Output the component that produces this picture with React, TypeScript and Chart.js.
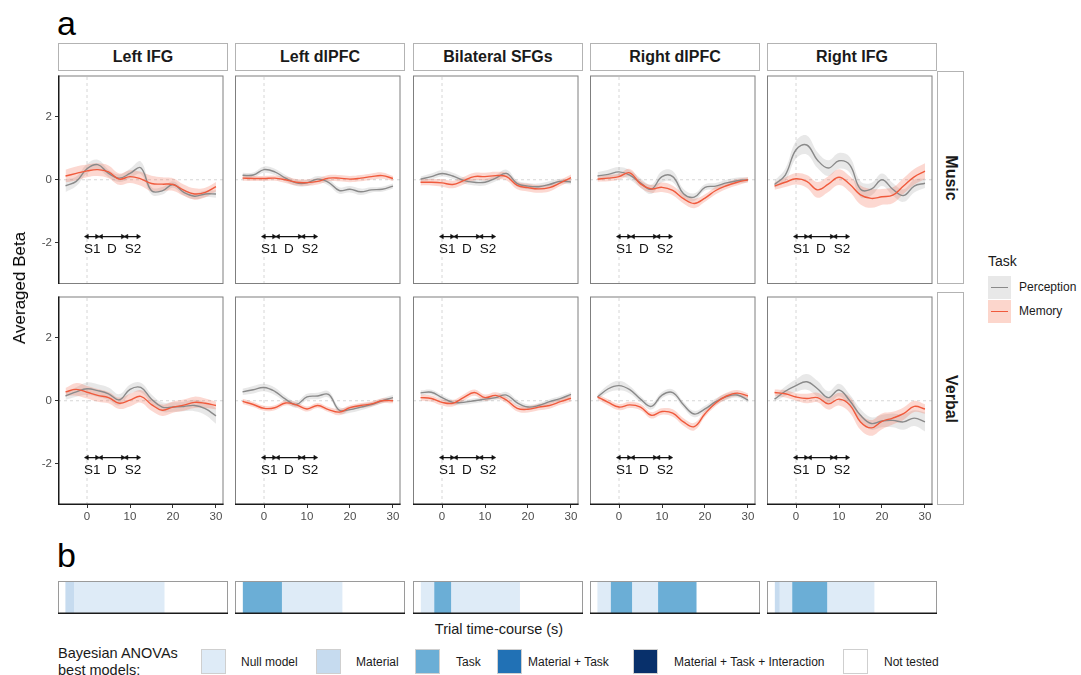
import React, { useEffect, useRef } from 'react';
import { Chart, registerables } from 'chart.js';
Chart.register(...registerables);

const FONT = '"Liberation Sans", Arial, Helvetica, sans-serif';

// ---------- categories ----------
const REGIONS = ['Left IFG', 'Left dlPFC', 'Bilateral SFGs', 'Right dlPFC', 'Right IFG'];
const MATERIALS = ['Music', 'Verbal'];
const TASKS = ['Perception', 'Memory'];
const TIME = [-5, -2.5, 0, 2.5, 5, 7.5, 10, 12.5, 15, 17.5, 20, 22.5, 25, 27.5, 30];
const Y_TICKS = [-2, 0, 2];
const X_TICKS = [0, 10, 20, 30];
const REF_X = 0;
const REF_Y = 0;

// ---------- trial annotation ----------
const ANNOT_X = [0, 2.3, 3.3, 8.3, 9.2, 11.9];
const ANNOT_ROT = [-90, 90, -90, 90, -90, 90];
const ANNOT_Y = -1.8;
const ANNOT_LABELS = ['S1', 'D', 'S2'];
const ANNOT_LABEL_X = [1.2, 5.8, 10.7];
const ANNOT_LABEL_Y = -2.2;

// ---------- Music: perception / memory means and SE ----------
const P_MUSIC_LIFG = [-0.19, -0.05, 0.35, 0.48, 0.2, 0.05, 0.2, 0.38, -0.35, -0.35, -0.15, -0.4, -0.52, -0.45, -0.45];
const P_MUSIC_LIFG_SE = [0.2, 0.15, 0.15, 0.15, 0.12, 0.12, 0.15, 0.2, 0.12, 0.12, 0.1, 0.1, 0.1, 0.1, 0.12];
const M_MUSIC_LIFG = [0.12, 0.2, 0.28, 0.32, 0.25, 0.02, 0.1, 0.03, -0.12, -0.14, -0.15, -0.33, -0.45, -0.4, -0.22];
const M_MUSIC_LIFG_SE = [0.2, 0.22, 0.2, 0.2, 0.2, 0.18, 0.2, 0.22, 0.25, 0.22, 0.2, 0.18, 0.18, 0.15, 0.15];

const P_MUSIC_LDLPFC = [0.14, 0.15, 0.32, 0.25, 0.05, -0.1, -0.1, 0.02, -0.08, -0.34, -0.3, -0.38, -0.32, -0.3, -0.2];
const P_MUSIC_LDLPFC_SE = [0.08, 0.08, 0.1, 0.1, 0.1, 0.1, 0.1, 0.1, 0.1, 0.1, 0.1, 0.1, 0.08, 0.08, 0.08];
const M_MUSIC_LDLPFC = [0.05, 0.04, 0.04, 0.05, 0.0, -0.08, -0.09, -0.05, 0.05, 0.05, 0.02, 0.05, 0.1, 0.13, 0.04];
const M_MUSIC_LDLPFC_SE = [0.08, 0.08, 0.08, 0.08, 0.1, 0.1, 0.1, 0.1, 0.1, 0.1, 0.1, 0.1, 0.1, 0.1, 0.08];

const P_MUSIC_SFG = [0.02, 0.1, 0.2, 0.12, -0.02, -0.08, -0.08, 0.05, 0.2, -0.12, -0.2, -0.22, -0.15, -0.05, -0.07];
const P_MUSIC_SFG_SE = [0.08, 0.1, 0.1, 0.1, 0.1, 0.1, 0.1, 0.1, 0.12, 0.1, 0.1, 0.1, 0.1, 0.08, 0.08];
const M_MUSIC_SFG = [-0.08, -0.08, -0.1, -0.15, -0.03, 0.1, 0.1, 0.13, 0.1, -0.18, -0.25, -0.29, -0.25, -0.1, 0.07];
const M_MUSIC_SFG_SE = [0.1, 0.1, 0.12, 0.12, 0.12, 0.12, 0.12, 0.12, 0.12, 0.12, 0.12, 0.12, 0.12, 0.1, 0.1];

const P_MUSIC_RDLPFC = [0.12, 0.17, 0.25, 0.15, -0.1, -0.3, 0.1, 0.1, -0.44, -0.55, -0.24, -0.2, -0.1, -0.03, 0.0];
const P_MUSIC_RDLPFC_SE = [0.12, 0.15, 0.15, 0.15, 0.15, 0.15, 0.18, 0.18, 0.15, 0.12, 0.1, 0.1, 0.1, 0.1, 0.08];
const M_MUSIC_RDLPFC = [0.02, 0.05, 0.1, 0.22, -0.13, -0.29, -0.24, -0.34, -0.6, -0.75, -0.58, -0.34, -0.19, -0.08, 0.0];
const M_MUSIC_RDLPFC_SE = [0.08, 0.1, 0.1, 0.12, 0.12, 0.12, 0.15, 0.15, 0.15, 0.15, 0.12, 0.12, 0.1, 0.1, 0.08];

const P_MUSIC_RIFG = [-0.15, 0.15, 0.95, 1.1, 0.62, 0.37, 0.6, 0.47, -0.3, -0.3, 0.0, -0.3, -0.5, -0.2, -0.11];
const P_MUSIC_RIFG_SE = [0.12, 0.2, 0.28, 0.3, 0.25, 0.25, 0.25, 0.25, 0.25, 0.2, 0.2, 0.2, 0.2, 0.2, 0.15];
const M_MUSIC_RIFG = [-0.2, -0.08, 0.03, -0.05, -0.32, -0.14, 0.08, -0.14, -0.48, -0.59, -0.54, -0.49, -0.2, 0.09, 0.27];
const M_MUSIC_RIFG_SE = [0.12, 0.15, 0.18, 0.2, 0.25, 0.25, 0.25, 0.25, 0.3, 0.3, 0.25, 0.25, 0.25, 0.25, 0.25];

// ---------- Verbal: perception / memory means and SE ----------
const P_VERBAL_LIFG = [0.15, 0.28, 0.38, 0.32, 0.22, 0.03, 0.36, 0.42, 0.05, -0.2, -0.2, -0.18, -0.15, -0.25, -0.48];
const P_VERBAL_LIFG_SE = [0.12, 0.15, 0.2, 0.2, 0.2, 0.18, 0.15, 0.15, 0.15, 0.15, 0.15, 0.15, 0.18, 0.2, 0.25];
const M_VERBAL_LIFG = [0.28, 0.36, 0.27, 0.17, 0.1, -0.08, 0.02, 0.14, -0.12, -0.3, -0.2, -0.14, -0.05, -0.08, -0.15];
const M_VERBAL_LIFG_SE = [0.12, 0.2, 0.2, 0.2, 0.18, 0.18, 0.2, 0.2, 0.2, 0.18, 0.18, 0.18, 0.18, 0.15, 0.12];

const P_VERBAL_LDLPFC = [0.28, 0.35, 0.42, 0.3, 0.05, -0.12, 0.12, 0.15, 0.2, -0.3, -0.28, -0.2, -0.12, 0.0, 0.1];
const P_VERBAL_LDLPFC_SE = [0.1, 0.12, 0.12, 0.12, 0.1, 0.1, 0.1, 0.1, 0.1, 0.1, 0.1, 0.1, 0.08, 0.08, 0.08];
const M_VERBAL_LDLPFC = [-0.02, -0.12, -0.24, -0.22, -0.07, -0.13, -0.26, -0.15, -0.28, -0.36, -0.22, -0.15, -0.1, 0.0, 0.0];
const M_VERBAL_LDLPFC_SE = [0.08, 0.08, 0.08, 0.08, 0.08, 0.08, 0.08, 0.08, 0.08, 0.1, 0.08, 0.08, 0.08, 0.08, 0.08];

const P_VERBAL_SFG = [0.25, 0.27, 0.1, -0.05, -0.05, 0.0, 0.05, 0.1, 0.18, -0.07, -0.2, -0.15, -0.03, 0.07, 0.2];
const P_VERBAL_SFG_SE = [0.08, 0.08, 0.08, 0.08, 0.08, 0.08, 0.08, 0.08, 0.1, 0.1, 0.08, 0.08, 0.08, 0.08, 0.08];
const M_VERBAL_SFG = [0.1, 0.07, -0.05, -0.08, 0.1, 0.26, 0.1, 0.17, 0.02, -0.24, -0.27, -0.2, -0.15, -0.03, 0.08];
const M_VERBAL_SFG_SE = [0.1, 0.1, 0.1, 0.1, 0.1, 0.1, 0.1, 0.1, 0.1, 0.1, 0.1, 0.1, 0.1, 0.1, 0.1];

const P_VERBAL_RDLPFC = [0.12, 0.38, 0.48, 0.35, 0.05, -0.18, 0.18, 0.26, -0.13, -0.42, -0.26, -0.03, 0.13, 0.18, 0.02];
const P_VERBAL_RDLPFC_SE = [0.08, 0.12, 0.15, 0.12, 0.1, 0.1, 0.1, 0.1, 0.1, 0.1, 0.1, 0.1, 0.1, 0.08, 0.08];
const M_VERBAL_RDLPFC = [0.12, -0.05, -0.2, -0.13, -0.2, -0.46, -0.34, -0.39, -0.67, -0.82, -0.41, -0.07, 0.15, 0.24, 0.15];
const M_VERBAL_RDLPFC_SE = [0.08, 0.1, 0.1, 0.1, 0.1, 0.1, 0.1, 0.12, 0.12, 0.12, 0.1, 0.1, 0.1, 0.1, 0.08];

const P_VERBAL_RIFG = [0.05, 0.3, 0.48, 0.6, 0.38, 0.1, 0.34, 0.0, -0.46, -0.72, -0.64, -0.62, -0.67, -0.55, -0.67];
const P_VERBAL_RIFG_SE = [0.08, 0.15, 0.2, 0.25, 0.25, 0.2, 0.2, 0.2, 0.2, 0.2, 0.2, 0.22, 0.25, 0.25, 0.3];
const M_VERBAL_RIFG = [0.26, 0.22, 0.12, 0.07, 0.1, -0.1, 0.05, -0.13, -0.67, -0.86, -0.65, -0.55, -0.41, -0.18, -0.26];
const M_VERBAL_RIFG_SE = [0.1, 0.12, 0.12, 0.15, 0.15, 0.18, 0.2, 0.25, 0.25, 0.25, 0.25, 0.2, 0.2, 0.18, 0.15];

// ---------- Panel b: Bayesian ANOVA best models ----------
const MODEL_NAMES = ['Null model', 'Material', 'Task', 'Material + Task', 'Material + Task + Interaction', 'Not tested'];
const MODEL_COLORS = ['#deebf7', '#c6dbef', '#6baed6', '#2171b5', '#08306b', '#ffffff'];
const B_EDGES_LIFG = [-5, -3.2, 17.3];
const B_MODELS_LIFG = ['Material', 'Null model'];
const B_EDGES_LDLPFC = [-4.9, 3.8, 17.5];
const B_MODELS_LDLPFC = ['Task', 'Null model'];
const B_EDGES_SFG = [-4.9, -2.0, 1.8, 17.4];
const B_MODELS_SFG = ['Null model', 'Task', 'Null model'];
const B_EDGES_RDLPFC = [-5, -2.1, 2.7, 8.6, 17.3];
const B_MODELS_RDLPFC = ['Null model', 'Task', 'Null model', 'Task'];
const B_EDGES_RIFG = [-4.9, -4.0, -1.1, 6.8, 17.5];
const B_MODELS_RIFG = ['Material', 'Null model', 'Task', 'Null model'];

// ---------- styling & layout ----------
const X_MIN = -6.75, X_MAX = 31.75, Y_MIN = -3.3, Y_MAX = 3.3;
const GREY_LINE = '#8a8a8a';
const RED_LINE = '#f05a3c';
const GREY_FILL = 'rgba(150,150,150,0.22)';
const RED_FILL = 'rgba(244,100,70,0.25)';
const COL_LEFT = [58, 235, 413, 590, 767];
const ROW_TOP = [71, 292];
const PW = 170, PH = 213;
const AX_W = 30, AX_H = 22;

const PANELS_DATA = [
  [
    [P_MUSIC_LIFG, P_MUSIC_LIFG_SE, M_MUSIC_LIFG, M_MUSIC_LIFG_SE],
    [P_MUSIC_LDLPFC, P_MUSIC_LDLPFC_SE, M_MUSIC_LDLPFC, M_MUSIC_LDLPFC_SE],
    [P_MUSIC_SFG, P_MUSIC_SFG_SE, M_MUSIC_SFG, M_MUSIC_SFG_SE],
    [P_MUSIC_RDLPFC, P_MUSIC_RDLPFC_SE, M_MUSIC_RDLPFC, M_MUSIC_RDLPFC_SE],
    [P_MUSIC_RIFG, P_MUSIC_RIFG_SE, M_MUSIC_RIFG, M_MUSIC_RIFG_SE],
  ],
  [
    [P_VERBAL_LIFG, P_VERBAL_LIFG_SE, M_VERBAL_LIFG, M_VERBAL_LIFG_SE],
    [P_VERBAL_LDLPFC, P_VERBAL_LDLPFC_SE, M_VERBAL_LDLPFC, M_VERBAL_LDLPFC_SE],
    [P_VERBAL_SFG, P_VERBAL_SFG_SE, M_VERBAL_SFG, M_VERBAL_SFG_SE],
    [P_VERBAL_RDLPFC, P_VERBAL_RDLPFC_SE, M_VERBAL_RDLPFC, M_VERBAL_RDLPFC_SE],
    [P_VERBAL_RIFG, P_VERBAL_RIFG_SE, M_VERBAL_RIFG, M_VERBAL_RIFG_SE],
  ],
];
const B_DATA = [
  [B_EDGES_LIFG, B_MODELS_LIFG],
  [B_EDGES_LDLPFC, B_MODELS_LDLPFC],
  [B_EDGES_SFG, B_MODELS_SFG],
  [B_EDGES_RDLPFC, B_MODELS_RDLPFC],
  [B_EDGES_RIFG, B_MODELS_RIFG],
];

const framePlugin = {
  id: 'frame',
  afterDraw(chart: any) {
    const o = chart.options.plugins.frame || {};
    const { ctx, chartArea: a } = chart;
    ctx.save();
    ctx.strokeStyle = o.color || '#7f7f7f';
    ctx.lineWidth = 1;
    ctx.strokeRect(a.left + 0.5, a.top + 0.5, a.right - a.left - 1, a.bottom - a.top - 1);
    ctx.strokeStyle = '#1a1a1a';
    ctx.lineWidth = 1.5;
    if (o.left) {
      ctx.beginPath(); ctx.moveTo(a.left + 0.75, a.top); ctx.lineTo(a.left + 0.75, a.bottom); ctx.stroke();
    }
    if (o.bottom) {
      ctx.beginPath(); ctx.moveTo(a.left, a.bottom - 0.75); ctx.lineTo(a.right, a.bottom - 0.75); ctx.stroke();
    }
    ctx.restore();
  },
};

const annotLabelPlugin = {
  id: 'annotLabels',
  afterDatasetsDraw(chart: any) {
    const { ctx, scales } = chart;
    ctx.save();
    ctx.font = `13.5px ${FONT}`;
    ctx.fillStyle = '#111';
    ctx.textAlign = 'center';
    ctx.textBaseline = 'middle';
    ANNOT_LABELS.forEach((l, i) => {
      ctx.fillText(l, scales.x.getPixelForValue(ANNOT_LABEL_X[i]), scales.y.getPixelForValue(ANNOT_LABEL_Y));
    });
    ctx.restore();
  },
};

function pts(vals: number[], se: number[] | null, sign: number) {
  return TIME.map((t, i) => ({ x: t, y: vals[i] + (se ? sign * se[i] : 0) }));
}

function LinePanel({ row, col }: { row: number; col: number }) {
  const ref = useRef<HTMLCanvasElement>(null);
  const showY = col === 0;
  const showX = row === 1;
  useEffect(() => {
    const [p, pse, m, mse] = PANELS_DATA[row][col];
    const smooth = { tension: 0.4, pointRadius: 0 };
    const chart = new Chart(ref.current!, {
      type: 'line',
      data: {
        datasets: [
          { data: pts(p, pse, -1), borderWidth: 0, fill: false, order: 10, ...smooth },
          { data: pts(p, pse, 1), borderWidth: 0, fill: '-1', backgroundColor: GREY_FILL, order: 9, ...smooth },
          { data: pts(m, mse, -1), borderWidth: 0, fill: false, order: 8, ...smooth },
          { data: pts(m, mse, 1), borderWidth: 0, fill: '-1', backgroundColor: RED_FILL, order: 7, ...smooth },
          { label: TASKS[0], data: pts(p, null, 0), borderColor: GREY_LINE, borderWidth: 1.4, fill: false, order: 3, ...smooth },
          { label: TASKS[1], data: pts(m, null, 0), borderColor: RED_LINE, borderWidth: 1.4, fill: false, order: 2, ...smooth },
          {
            data: ANNOT_X.map((x) => ({ x, y: ANNOT_Y })),
            borderColor: '#111', borderWidth: 1.3, fill: false, order: 1, tension: 0,
            pointStyle: 'triangle', pointRotation: ANNOT_ROT, pointRadius: 2.6,
            pointBackgroundColor: '#111', pointBorderColor: '#111', pointBorderWidth: 0.5,
          },
          {
            data: [{ x: REF_X, y: Y_MIN }, { x: REF_X, y: Y_MAX }],
            borderColor: '#d6d6d6', borderWidth: 1, borderDash: [3, 3], pointRadius: 0, fill: false, order: 20,
          },
          {
            data: [{ x: X_MIN, y: REF_Y }, { x: X_MAX, y: REF_Y }],
            borderColor: '#d6d6d6', borderWidth: 1, borderDash: [3, 3], pointRadius: 0, fill: false, order: 20,
          },
        ] as any,
      },
      options: {
        animation: false,
        responsive: false,
        devicePixelRatio: 1,
        events: [],
        layout: { padding: 0 },
        plugins: { legend: { display: false }, tooltip: { enabled: false }, frame: { left: showY, bottom: showX } } as any,
        scales: {
          x: {
            type: 'linear', min: X_MIN, max: X_MAX,
            afterBuildTicks: (s: any) => { s.ticks = X_TICKS.map((v) => ({ value: v })); },
            afterFit: (s: any) => { s.height = AX_H; s.paddingLeft = 0; s.paddingRight = 0; },
            ticks: { display: showX, color: '#4d4d4d', font: { size: 11.5, family: FONT }, padding: 2, maxRotation: 0, autoSkip: false },
            grid: { display: showX, drawOnChartArea: false, drawTicks: true, tickLength: 3, color: '#333' },
            border: { display: false },
          },
          y: {
            type: 'linear', min: Y_MIN, max: Y_MAX,
            afterBuildTicks: (s: any) => { s.ticks = Y_TICKS.map((v) => ({ value: v })); },
            afterFit: (s: any) => { s.width = AX_W; s.paddingTop = 0; s.paddingBottom = 0; },
            ticks: { display: showY, color: '#4d4d4d', font: { size: 11.5, family: FONT }, padding: 3, autoSkip: false },
            grid: { display: showY, drawOnChartArea: false, drawTicks: true, tickLength: 3, color: '#333' },
            border: { display: false },
          },
        },
      },
      plugins: [framePlugin, annotLabelPlugin],
    });
    return () => chart.destroy();
  }, [row, col]);
  return (
    <div style={{ position: 'absolute', left: COL_LEFT[col] - AX_W, top: ROW_TOP[row], width: PW + AX_W, height: PH + AX_H }}>
      <canvas ref={ref} width={PW + AX_W} height={PH + AX_H} style={{ width: PW + AX_W, height: PH + AX_H, display: 'block' }} />
    </div>
  );
}

function ModelStrip({ col }: { col: number }) {
  const ref = useRef<HTMLCanvasElement>(null);
  useEffect(() => {
    const [edges, models] = B_DATA[col] as [number[], string[]];
    const datasets = (models as string[]).map((mname, i) => ({
      label: mname,
      data: [[edges[i], edges[i + 1]]],
      backgroundColor: MODEL_COLORS[MODEL_NAMES.indexOf(mname)],
      borderWidth: 0,
      barPercentage: 1,
      categoryPercentage: 1,
      grouped: false,
    }));
    const chart = new Chart(ref.current!, {
      type: 'bar',
      data: { labels: [REGIONS[col]], datasets: datasets as any },
      options: {
        indexAxis: 'y',
        animation: false,
        responsive: false,
        devicePixelRatio: 1,
        events: [],
        layout: { padding: 0 },
        plugins: { legend: { display: false }, tooltip: { enabled: false }, frame: { left: false, bottom: true, color: '#9a9a9a' } } as any,
        scales: {
          x: { type: 'linear', min: X_MIN, max: X_MAX, display: false },
          y: { type: 'category', display: false },
        },
      },
      plugins: [framePlugin],
    });
    return () => chart.destroy();
  }, [col]);
  return (
    <div style={{ position: 'absolute', left: COL_LEFT[col], top: 581, width: PW, height: 33 }}>
      <canvas ref={ref} width={PW} height={33} style={{ width: PW, height: 33, display: 'block' }} />
    </div>
  );
}

const txt = (extra: React.CSSProperties): React.CSSProperties => ({
  position: 'absolute', whiteSpace: 'nowrap', fontFamily: FONT, color: '#1a1a1a', ...extra,
});

export default function App() {
  return (
    <div style={{ position: 'absolute', left: 0, top: 0, width: 1081, height: 675, background: '#fff', overflow: 'hidden', fontFamily: FONT }}>
      <div style={txt({ left: 57, top: 6, fontSize: 34, lineHeight: '34px', color: '#000' })}>a</div>
      <div style={txt({ left: 57, top: 538, fontSize: 34, lineHeight: '34px', color: '#000' })}>b</div>

      {REGIONS.map((r, c) => (
        <div key={r} style={txt({
          left: COL_LEFT[c], top: 43, width: PW, height: 28, boxSizing: 'border-box', border: '1px solid #b3b3b3',
          background: '#fff', display: 'flex', alignItems: 'center', justifyContent: 'center', fontWeight: 'bold', fontSize: 16,
        })}>{r}</div>
      ))}

      {MATERIALS.map((m, r) => (
        <div key={m} style={txt({ left: 937, top: ROW_TOP[r], width: 27, height: PH, boxSizing: 'border-box', border: '1px solid #b3b3b3' })}>
          <div style={txt({ left: '50%', top: '50%', transform: 'translate(-50%,-50%) rotate(90deg)', fontWeight: 'bold', fontSize: 16 })}>{m}</div>
        </div>
      ))}

      {[0, 1].map((r) => [0, 1, 2, 3, 4].map((c) => <LinePanel key={`${r}-${c}`} row={r} col={c} />))}

      <div style={txt({ left: 20, top: 288, transform: 'translate(-50%,-50%) rotate(-90deg)', fontSize: 17, color: '#000' })}>Averaged Beta</div>

      {/* Task legend */}
      <div style={txt({ left: 988, top: 253, fontSize: 14, lineHeight: '16px' })}>Task</div>
      {TASKS.map((t, i) => (
        <React.Fragment key={t}>
          <div style={{ position: 'absolute', left: 988, top: 276 + i * 24, width: 23, height: 23, background: i === 0 ? '#e8e8e8' : '#fcd6cc' }}>
            <div style={{ position: 'absolute', left: 3, right: 3, top: 11, height: 1.4, background: i === 0 ? GREY_LINE : RED_LINE }} />
          </div>
          <div style={txt({ left: 1019, top: 280 + i * 24, fontSize: 12, lineHeight: '14px' })}>{t}</div>
        </React.Fragment>
      ))}

      {[0, 1, 2, 3, 4].map((c) => <ModelStrip key={c} col={c} />)}

      <div style={txt({ left: 499, top: 629, transform: 'translate(-50%,-50%)', fontSize: 14.5 })}>Trial time-course (s)</div>

      <div style={txt({ left: 58, top: 645, fontSize: 14.5, lineHeight: '17px' })}>Bayesian ANOVAs<br />best models:</div>
      {MODEL_NAMES.map((n, i) => {
        const boxX = [201, 316, 415, 497, 633, 843][i];
        const labX = [241, 356, 456, 528, 674, 884][i];
        return (
          <React.Fragment key={n}>
            <div style={{ position: 'absolute', left: boxX, top: 649, width: 25, height: 25, boxSizing: 'border-box', background: MODEL_COLORS[i], border: '1px solid #cfcfcf' }} />
            <div style={txt({ left: labX, top: 661.5, transform: 'translateY(-50%)', fontSize: 12 })}>{n}</div>
          </React.Fragment>
        );
      })}
    </div>
  );
}
